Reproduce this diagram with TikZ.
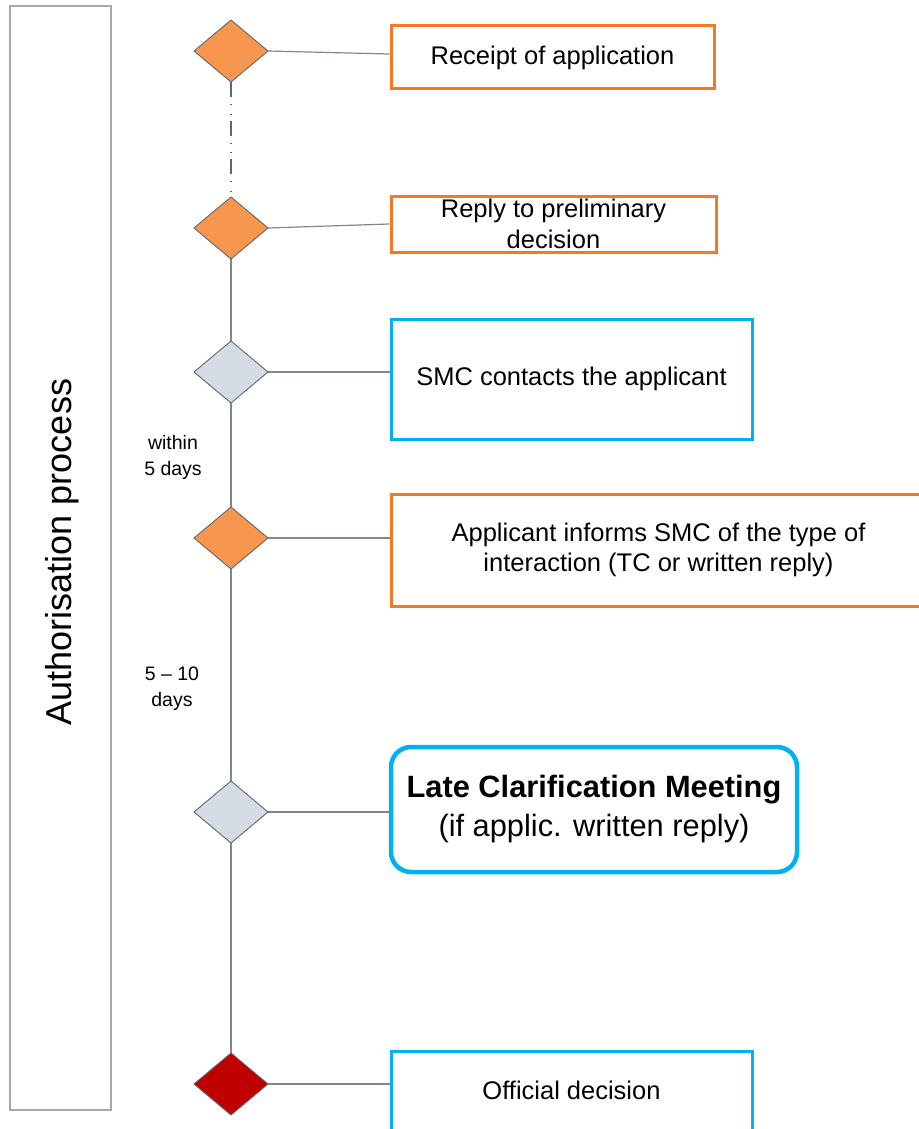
\documentclass[tikz,border=0pt]{standalone}
\usepackage{fontspec}
\setmainfont{Liberation Sans}
\usetikzlibrary{shapes.geometric}
\definecolor{orangeB}{RGB}{246,120,36}
\definecolor{orangeF}{RGB}{247,150,78}
\definecolor{grayF}{RGB}{214,220,229}
\definecolor{redF}{RGB}{192,0,0}
\definecolor{blueB}{RGB}{0,176,240}
\definecolor{lineC}{RGB}{128,134,144}
\definecolor{dborder}{RGB}{95,102,112}
\definecolor{frameC}{RGB}{166,170,176}
\tikzset{
  dia/.style={diamond,draw=dborder,line width=0.9pt,minimum width=74pt,minimum height=62pt,inner sep=0pt,outer sep=0pt},
  obox/.style={draw=orangeB,line width=3pt,fill=white,inner sep=0pt,align=center,font=\fontsize{25.5}{30.5}\selectfont},
  bbox/.style={draw=blueB,line width=3pt,fill=white,inner sep=0pt,align=center,font=\fontsize{25.5}{30.5}\selectfont},
  conn/.style={draw=lineC,line width=1.2pt},
  small/.style={align=center,font=\fontsize{19.5}{26}\selectfont,inner sep=0pt}
}
\begin{document}
\begin{tikzpicture}[x=1pt,y=-1pt]
\useasboundingbox (0,0) rectangle (918,1129);
% left frame
\node[draw=frameC,line width=1.3pt,minimum width=101pt,minimum height=1104pt,inner sep=0pt] (frame) at (60.5,558) {};
\node[rotate=90,font=\fontsize{36}{40}\selectfont,inner sep=0pt] (title) at (62,552) {Authorisation process};
% diamonds
\node[dia,fill=orangeF] (d1) at (231,51) {};
\node[dia,fill=orangeF] (d2) at (231,228) {};
\node[dia,fill=grayF] (d3) at (231,372) {};
\node[dia,fill=orangeF] (d4) at (231,538) {};
\node[dia,fill=grayF] (d5) at (231,812) {};
\node[dia,fill=redF] (d6) at (231,1084) {};
% boxes
\node[obox,minimum width=323pt,minimum height=63pt] (b1) at (552.5,57.5) {Receipt of application};
\node[obox,minimum width=325pt,minimum height=56pt] (b2) at (553.5,224) {Reply to preliminary\\decision};
\node[bbox,minimum width=361pt,minimum height=120pt] (b3) at (571.5,379) {SMC contacts the applicant};
\node[obox,minimum width=535pt,minimum height=112pt] (b4) at (658.5,550) {Applicant informs SMC of the type of\\interaction (TC or written reply)};
\node[draw=blueB,line width=4.5pt,rounded corners=20pt,fill=white,inner sep=0pt,align=center,minimum width=406pt,minimum height=125pt,font=\fontsize{30.8}{39}\selectfont] (b5) at (594,809.5) {\raisebox{-3pt}{\textbf{Late Clarification Meeting}}\\\raisebox{-3pt}{(if applic. written reply)}};
\node[draw=blueB,line width=3pt,fill=white,inner sep=0pt,minimum width=361pt,minimum height=100pt] (b6) at (571.5,1101) {};
\node[font=\fontsize{25.5}{30.5}\selectfont,inner sep=0pt] (b6t) at (571.5,1090) {Official decision};
% timeline
\draw[draw=dborder,line width=1.1pt,dash pattern=on 15pt off 7pt on 0.8pt off 9pt on 0.8pt off 6pt] (d1.south) -- (d2.north);
\draw[conn] (d2.south) -- (d3.north);
\draw[conn] (d3.south) -- (d4.north);
\draw[conn] (d4.south) -- (d5.north);
\draw[conn] (d5.south) -- (d6.north);
% connectors
\draw[conn] (d1.east) -- ([yshift=3.5pt]b1.west);
\draw[conn] (d2.east) -- (b2.west);
\draw[conn] (d3.east) -- (b3.west |- d3.east);
\draw[conn] (d4.east) -- (b4.west |- d4.east);
\draw[conn] (d5.east) -- (b5.west |- d5.east);
\draw[conn] (d6.east) -- (b6.west |- d6.east);
% labels
\node[small] (l1) at (173,457) {within\\5 days};
\node[small] (l2) at (172,689) {5 -- 10\\days};
\end{tikzpicture}
\end{document}
